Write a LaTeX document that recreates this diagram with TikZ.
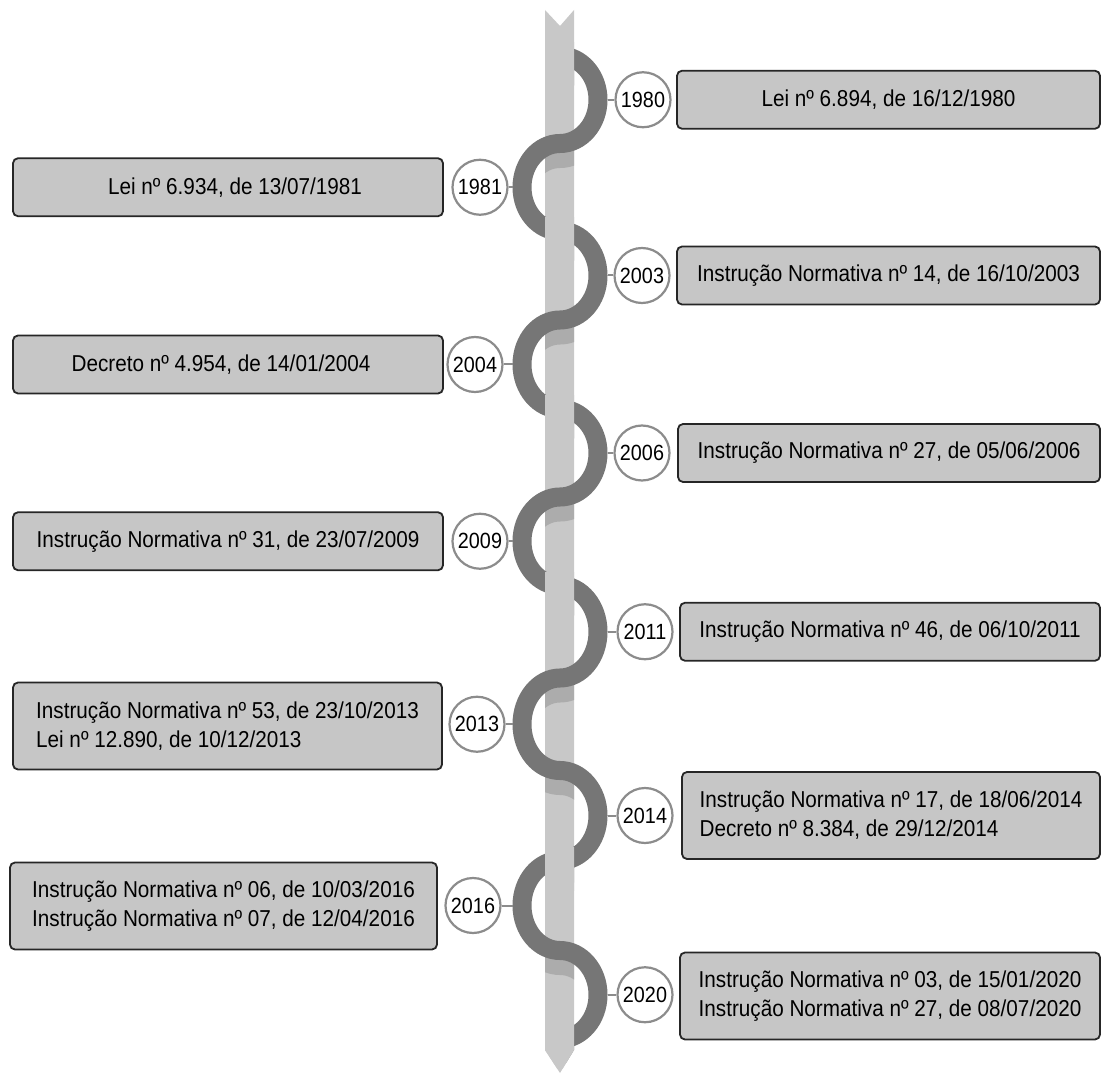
\documentclass[tikz,border=0pt]{standalone}
\usepackage{fontspec}
\setmainfont{Liberation Sans}[FakeStretch=0.9]
\definecolor{barcol}{HTML}{C8C8C8}
\definecolor{ribcol}{HTML}{767676}
\definecolor{shadcol}{HTML}{ACACAC}
\definecolor{boxcol}{HTML}{C6C6C6}
\definecolor{ringcol}{HTML}{8C8C8C}
\newcommand\ribbondraw[1]{%
  \draw[#1] (560,56)
    arc[start angle=90,end angle=-90,x radius=38pt,y radius=43.75pt]
    arc[start angle=90,end angle=270,x radius=38pt,y radius=43.75pt]
    arc[start angle=90,end angle=-90,x radius=38pt,y radius=44.5pt]
    arc[start angle=90,end angle=270,x radius=38pt,y radius=44.5pt]
    arc[start angle=90,end angle=-90,x radius=38pt,y radius=44pt]
    arc[start angle=90,end angle=270,x radius=38pt,y radius=44.25pt]
    arc[start angle=90,end angle=-90,x radius=38pt,y radius=46.25pt]
    arc[start angle=90,end angle=270,x radius=38pt,y radius=46.25pt]
    arc[start angle=90,end angle=-90,x radius=38pt,y radius=45pt]
    arc[start angle=90,end angle=270,x radius=38pt,y radius=45pt]
    arc[start angle=90,end angle=-90,x radius=38pt,y radius=44.25pt];}
\newcommand\barfill[1]{%
  \path[#1] (545,10) -- (560,26) -- (574,10) -- (574,1050) -- (560,1073) -- (545,1050) -- cycle;}
\begin{document}
\begin{tikzpicture}[x=1pt,y=-1pt,
  stubline/.style={draw=ringcol,line width=2pt},
  yearnode/.style={circle,draw=ringcol,line width=2.2pt,fill=white,text=black,minimum size=55pt,inner sep=0pt,font=\fontsize{22}{24}\selectfont},
  boxnode/.style={draw=black!85,line width=1.8pt,fill=boxcol,rounded corners=5pt,inner sep=0pt,text=black,font=\fontsize{23}{29}\selectfont},
  onebox/.style={boxnode,minimum height=58pt,align=center},
  twobox/.style={boxnode,minimum height=87pt,align=left}]
\useasboundingbox (0,0) rectangle (1104,1075);
% bar
\barfill{fill=barcol}
% shadows of the ribbon on the bar
\begin{scope}
  \barfill{clip}
  \ribbondraw{draw=shadcol,line width=19pt,yshift=-15pt}
\end{scope}
% ribbon
\ribbondraw{draw=ribcol,line width=19pt}
% bar in front of the ribbon at the rear crossings
\begin{scope}
  \barfill{clip}
  \foreach \c in {56,231,409,585.5,860.5,1039}
    \fill[barcol] (540,{\c-14}) rectangle (580,{\c+30});
\end{scope}
% year circles with stubs
\coordinate (r1980) at (607.5,99.75);
\coordinate (r1981) at (512.5,187.25);
\coordinate (r2003) at (607.5,275.5);
\coordinate (r2004) at (512.5,364.5);
\coordinate (r2006) at (607.5,453);
\coordinate (r2009) at (512.5,541.25);
\coordinate (r2011) at (607.5,631.75);
\coordinate (r2013) at (512.5,724.25);
\coordinate (r2014) at (607.5,815.5);
\coordinate (r2016) at (512.5,905.5);
\coordinate (r2020) at (607.5,994.75);
\node[yearnode] (y1980) at (643,99.75) {1980};
\node[yearnode] (y1981) at (480,187.25) {1981};
\node[yearnode] (y2003) at (642,275.5) {2003};
\node[yearnode] (y2004) at (475,364.5) {2004};
\node[yearnode] (y2006) at (642,453) {2006};
\node[yearnode] (y2009) at (480,541.25) {2009};
\node[yearnode] (y2011) at (645,631.75) {2011};
\node[yearnode] (y2013) at (477,724.25) {2013};
\node[yearnode] (y2014) at (645,815.5) {2014};
\node[yearnode] (y2016) at (473,905.5) {2016};
\node[yearnode] (y2020) at (645,994.75) {2020};
\foreach \yr in {1980,2003,2006,2011,2014,2020}
  \draw[stubline] (r\yr) -- (y\yr.west);
\foreach \yr in {1981,2004,2009,2013,2016}
  \draw[stubline] (y\yr.east) -- (r\yr);
% boxes
\node[onebox,minimum width=423pt] (b1980) at (888.5,99.75) {Lei nº 6.894, de 16/12/1980};
\node[onebox,minimum width=430pt] (b1981) at (228,187.25) {\hspace*{14pt}Lei nº 6.934, de 13/07/1981};
\node[onebox,minimum width=423pt] (b2003) at (888.5,275.5) {Instrução Normativa nº 14, de 16/10/2003};
\node[onebox,minimum width=430pt] (b2004) at (228,364.5) {Decreto nº 4.954, de 14/01/2004\hspace*{14pt}};
\node[onebox,minimum width=422pt] (b2006) at (889,453) {Instrução Normativa nº 27, de 05/06/2006};
\node[onebox,minimum width=430pt] (b2009) at (228,541.25) {Instrução Normativa nº 31, de 23/07/2009};
\node[onebox,minimum width=420pt] (b2011) at (890,631.75) {Instrução Normativa nº 46, de 06/10/2011};
\node[twobox,minimum width=429pt] (b2013) at (227.5,726) {Instrução Normativa nº 53, de 23/10/2013\\Lei nº 12.890, de 10/12/2013};
\node[twobox,minimum width=418pt] (b2014) at (891,815.5) {Instrução Normativa nº 17, de 18/06/2014\\Decreto nº 8.384, de 29/12/2014};
\node[twobox,minimum width=427pt] (b2016) at (223.5,906) {Instrução Normativa nº 06, de 10/03/2016\\Instrução Normativa nº 07, de 12/04/2016};
\node[twobox,minimum width=420pt] (b2020) at (890,996) {Instrução Normativa nº 03, de 15/01/2020\\Instrução Normativa nº 27, de 08/07/2020};
\end{tikzpicture}
\end{document}
